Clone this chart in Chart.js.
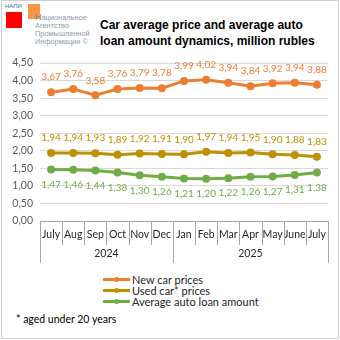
<!DOCTYPE html>
<html>
<head>
<meta charset="utf-8">
<script src="https://cdn.jsdelivr.net/npm/chart.js@4"></script>
<style>
  body { margin: 0; background: #fff; }
  #wrap { position: relative; width: 340px; height: 340px; overflow: hidden; font-family: "Liberation Sans", Arial, sans-serif; }
  #frame { position: absolute; left: 1px; top: 0; width: 336px; height: 337px; border: 1px solid #d0d0d0; box-sizing: content-box; pointer-events: none; }
  #c { position: absolute; left: 0; top: 0; }
  .abs { position: absolute; white-space: nowrap; }
  .sep { position: absolute; width: 1px; background: #a6a6a6; }
  .axis { position: absolute; height: 1px; background: #a6a6a6; }
  #title { left: 100px; top: 17px; font-weight: bold; font-size: 12px; line-height: 16px; color: #000; }
  #napi { left: 5px; top: 3px; font-size: 6px; color: #4a6a90; }
  #red { left: 6px; top: 12px; width: 16px; height: 16px; background: #ff0000; }
  #orange { left: 28px; top: 4px; width: 12px; height: 15px; background: #f79646; }
  #logotext { left: 35px; top: 13px; font-size: 7.4px; line-height: 8px; color: #8a9bb0; }
  #logotext b { font-weight: normal; color: #7a7a7a; font-size: 9px; }
  #legend { left: 103px; top: 274px; font-family: Lato, sans-serif; font-size: 11px; color: #262626; }
  .li { height: 11px; line-height: 11px; display: flex; align-items: center; }
  .sw { position: relative; width: 27px; height: 3px; margin-right: 2px; }
  .sw i { position: absolute; left: 11px; top: -1px; width: 5px; height: 5px; border-radius: 50%; }
  #note { left: 16px; top: 313px; font-family: Lato, sans-serif; font-size: 10.5px; color: #000; }
</style>
</head>
<body>
<div id="wrap">
  <div id="frame"></div>
  <div class="abs" id="napi">НАПИ</div>
  <div class="abs" id="red"></div>
  <div class="abs" id="orange"></div>
  <div class="abs" id="logotext"><b>Н</b>ациональное<br>Агентство<br>Промышленной<br>Информации ©</div>
  <div class="abs" id="title">Car average price and average auto<br>loan amount dynamics, million rubles</div>
  <div class="abs" id="legend"></div>
  <div class="abs" id="note">* aged under 20 years</div>
  <canvas id="c" width="340" height="340"></canvas>
</div>
<script>
const months = ["July", "Aug", "Sep", "Oct", "Nov", "Dec", "Jan", "Feb", "Mar", "Apr", "May", "June", "July"];
const years = ["2024", "2025"];
const yearSpans = [6, 7];

const newCar = [3.67, 3.76, 3.58, 3.76, 3.79, 3.78, 3.99, 4.02, 3.94, 3.84, 3.92, 3.94, 3.88];
const usedCar = [1.94, 1.94, 1.93, 1.89, 1.92, 1.91, 1.90, 1.97, 1.94, 1.95, 1.90, 1.88, 1.83];
const loanAmount = [1.47, 1.46, 1.44, 1.38, 1.30, 1.26, 1.21, 1.20, 1.22, 1.26, 1.27, 1.31, 1.38];

const seriesNames = ["New car prices", "Used car* prices", "Average auto loan amount"];
const colors = ["#ED7D31", "#BF9000", "#70AD47"];
const labelSide = [-1, -1, 1]; // above / below the point

const fmt = (v) => v.toFixed(2).replace(".", ",");

// value labels next to each point
const valueLabels = {
  id: "valueLabels",
  afterDatasetsDraw(chart) {
    const ctx = chart.ctx;
    ctx.save();
    ctx.font = "10px Lato, sans-serif";
    ctx.textAlign = "center";
    ctx.textBaseline = "middle";
    chart.data.datasets.forEach((ds, i) => {
      const meta = chart.getDatasetMeta(i);
      ctx.fillStyle = colors[i];
      meta.data.forEach((pt, j) => {
        ctx.fillText(fmt(ds.data[j]), pt.x, pt.y + labelSide[i] * 15);
      });
    });
    ctx.restore();
  },
};

// year row text under the month labels
const yearRow = {
  id: "yearRow",
  afterDraw(chart) {
    const ctx = chart.ctx;
    const x = chart.scales.x;
    const top = chart.chartArea.bottom;
    const step = x.getPixelForValue(1) - x.getPixelForValue(0);
    const edge = (i) => x.getPixelForValue(0) + (i - 0.5) * step;
    let start = 0;
    const bounds = [0];
    yearSpans.forEach((n) => { start += n; bounds.push(start); });
    ctx.save();
    ctx.fillStyle = "#262626";
    ctx.font = "10.5px Lato, sans-serif";
    ctx.textAlign = "center";
    ctx.textBaseline = "middle";
    years.forEach((y, k) => {
      const cx = (edge(bounds[k]) + edge(bounds[k + 1])) / 2;
      ctx.fillText(y, cx, top + 33);
    });
    ctx.restore();
  },
};

const datasets = [newCar, usedCar, loanAmount].map((d, i) => ({
  label: seriesNames[i],
  data: d,
  borderColor: colors[i],
  backgroundColor: colors[i],
  borderWidth: 3,
  pointRadius: 2.5,
  pointHoverRadius: 2.5,
  tension: 0,
}));

const chart = new Chart(document.getElementById("c"), {
  type: "line",
  data: { labels: months, datasets },
  options: {
    responsive: false,
    animation: false,
    layout: { padding: { top: 63, left: 0, right: 12, bottom: 74 } },
    plugins: { legend: { display: false }, tooltip: { enabled: false } },
    scales: {
      x: {
        offset: true,
        grid: { display: false, drawTicks: false, tickLength: 0 },
        border: { display: false },
        ticks: { color: "#262626", font: { family: "Lato", size: 10.5 }, padding: 7, maxRotation: 0, autoSkip: false },
        afterFit(s) { s.height = 45; },
      },
      y: {
        min: 0,
        max: 4.5,
        ticks: { stepSize: 0.5, color: "#595959", font: { family: "Lato", size: 10.5 }, padding: 7, callback: (v) => fmt(v) },
        grid: { color: "#d9d9d9", drawTicks: false },
        border: { display: false },
        afterFit(s) { s.width = 40; },
      },
    },
  },
  plugins: [valueLabels, yearRow],
});

// axis line and category separators as thin overlay elements, placed from the x scale
const wrap = document.getElementById("wrap");
const xs = chart.scales.x;
const axisTop = Math.round(chart.chartArea.bottom);
const step = xs.getPixelForValue(1) - xs.getPixelForValue(0);
const edgeAt = (i) => Math.round(xs.getPixelForValue(0) + (i - 0.5) * step);
const yearBounds = [0];
yearSpans.reduce((acc, n) => { yearBounds.push(acc + n); return acc + n; }, 0);

const axisLine = document.createElement("div");
axisLine.className = "axis";
axisLine.style.left = edgeAt(0) + "px";
axisLine.style.top = axisTop + "px";
axisLine.style.width = (edgeAt(months.length) - edgeAt(0) + 1) + "px";
wrap.appendChild(axisLine);

for (let i = 0; i <= months.length; i++) {
  const d = document.createElement("div");
  d.className = "sep";
  d.style.left = edgeAt(i) + "px";
  d.style.top = axisTop + "px";
  d.style.height = (yearBounds.includes(i) ? 42 : 24) + "px";
  wrap.appendChild(d);
}

// legend
const legend = document.getElementById("legend");
seriesNames.forEach((name, i) => {
  const row = document.createElement("div");
  row.className = "li";
  row.innerHTML = '<span class="sw" style="background:' + colors[i] + '"><i style="background:' + colors[i] + '"></i></span>' + name;
  legend.appendChild(row);
});
</script>
</body>
</html>
